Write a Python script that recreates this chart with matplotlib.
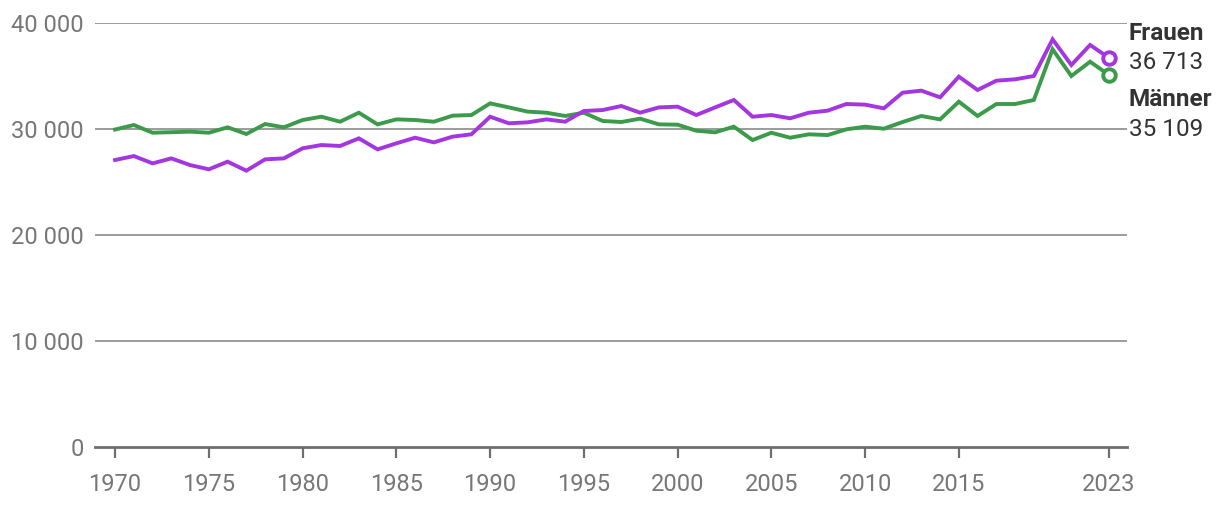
import numpy as np
import matplotlib.pyplot as plt

plt.rcParams['font.family'] = ['Roboto', 'DejaVu Sans']

years = list(range(1970, 2024))

frauen = [27080, 27450, 26760, 27230, 26600, 26200, 26920, 26070, 27140, 27230,
          28180, 28490, 28400, 29120, 28080, 28650, 29180, 28740, 29280, 29500,
          31160, 30540, 30630, 30910, 30690, 31700, 31790, 32170, 31540, 32040,
          32110, 31320, 32040, 32740, 31160, 31320, 31010, 31540, 31730, 32360,
          32300, 31950, 33430, 33620, 32990, 34940, 33680, 34560, 34690, 35000,
          38460, 36040, 37930, 36713]

maenner = [29950, 30380, 29650, 29700, 29750, 29650, 30160, 29530, 30470, 30160,
           30850, 31160, 30690, 31540, 30440, 30910, 30850, 30690, 31260, 31320,
           32420, 32040, 31640, 31540, 31230, 31540, 30760, 30660, 30980, 30440,
           30410, 29840, 29690, 30220, 28960, 29650, 29180, 29500, 29430, 29970,
           30220, 30030, 30660, 31230, 30910, 32580, 31230, 32360, 32360, 32740,
           37520, 35000, 36350, 35109]

xticks = [1970, 1975, 1980, 1985, 1990, 1995, 2000, 2005, 2010, 2015, 2023]
yticks = [0, 10000, 20000, 30000, 40000]

purple = '#a436e0'
green = '#3b9b4b'
grey = '#777777'

fig = plt.figure(figsize=(12.2, 5.08), dpi=100)
ax = fig.add_axes([0.0779, 0.12, 0.8459, 0.8347])

for y in yticks[1:]:
    ax.axhline(y, color='#8a8a8a', linewidth=1.2, zorder=1)

ax.plot(years, maenner, color=green, linewidth=2.8, zorder=3, clip_on=False,
        solid_joinstyle='miter')
ax.plot(years, frauen, color=purple, linewidth=2.8, zorder=4, clip_on=False,
        solid_joinstyle='miter')
ax.plot(years[-1], frauen[-1], 'o', ms=9, mfc='white', mec=purple, mew=2.8,
        zorder=5, clip_on=False)
ax.plot(years[-1], maenner[-1], 'o', ms=9, mfc='white', mec=green, mew=2.8,
        zorder=5, clip_on=False)

ax.set_xlim(1968.93, 2023.97)
ax.set_ylim(0, 40000)

for s in ['top', 'right', 'left']:
    ax.spines[s].set_visible(False)
ax.spines['bottom'].set_color('#6e6e6e')
ax.spines['bottom'].set_linewidth(2)

ax.set_xticks(xticks)
ax.set_xticklabels([str(t) for t in xticks])
ax.set_yticks(yticks)
ax.set_yticklabels([f'{t:,}'.replace(',', ' ') for t in yticks])
ax.tick_params(axis='x', length=8, width=1.6, color='#6e6e6e', labelsize=17,
               labelcolor=grey, pad=11)
ax.tick_params(axis='y', length=0, labelsize=17, labelcolor=grey, pad=8)

tx = 2024.05
def fmt(v):
    return f'{v:,}'.replace(',', ' ')
ax.text(tx, 39050, 'Frauen', fontsize=17.5, fontweight='bold', color='#333333',
        va='center', ha='left', clip_on=False)
ax.text(tx, 36320, fmt(frauen[-1]), fontsize=17.5, color='#333333',
        va='center', ha='left', clip_on=False)
ax.text(tx, 32740, 'Männer', fontsize=17.5, fontweight='bold', color='#333333',
        va='center', ha='left', clip_on=False)
ax.text(tx, 30000, fmt(maenner[-1]), fontsize=17.5, color='#333333',
        va='center', ha='left', clip_on=False)

fig.savefig('out.png', dpi=100)
